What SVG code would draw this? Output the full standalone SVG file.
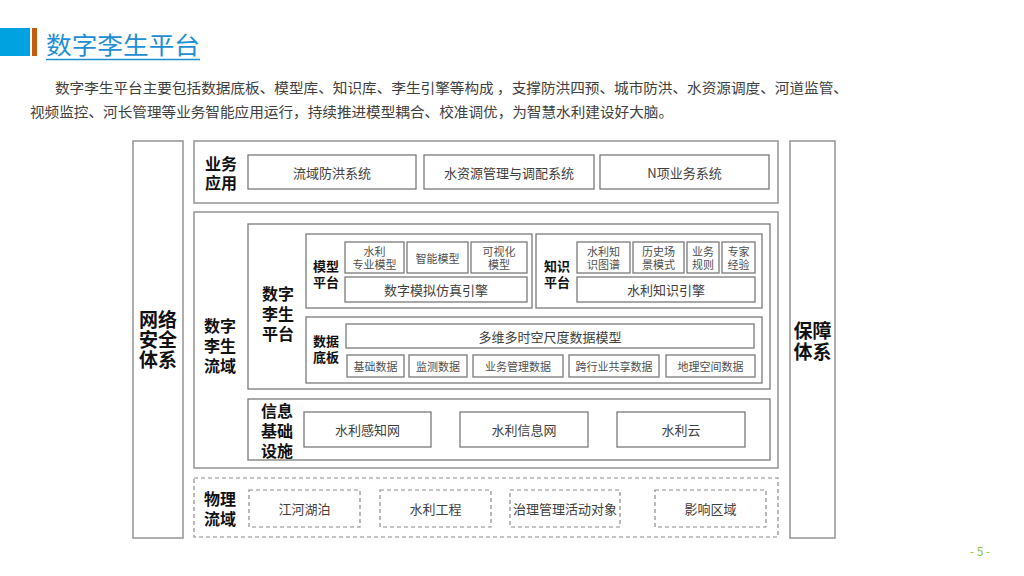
<svg xmlns="http://www.w3.org/2000/svg" width="1024" height="576" viewBox="0 0 1024 576">
<style>
text{font-family:"Noto Sans CJK SC","Noto Sans",sans-serif;}
.outer{fill:#fff;stroke:#9a9a9a;stroke-width:1.6}
.box{fill:#fff;stroke:#7a7a7a;stroke-width:1.3}
.dash{fill:#fff;stroke:#8a8a8a;stroke-width:1.2;stroke-dasharray:4 3}
.big{font-size:19px;font-weight:bold;fill:#111;text-anchor:middle;dominant-baseline:central}
.lbl{font-size:16px;font-weight:bold;fill:#111;text-anchor:middle;dominant-baseline:central}
.sl{font-size:13px;font-weight:bold;fill:#111;text-anchor:middle;dominant-baseline:central}
.t{font-size:13px;fill:#404040;text-anchor:middle;dominant-baseline:central}
.s{font-size:11px;fill:#505050;text-anchor:middle;dominant-baseline:central}
.para{font-size:14px;fill:#404040}
</style>
<rect width="1024" height="576" fill="#fff"/>
<g id="header">
<rect x="0" y="28" width="30" height="28" fill="#00A3E0"/>
<rect x="32" y="28" width="5" height="28" fill="#C55A11"/>
<text x="46" y="54" font-size="24" fill="#1F8ED3" textLength="154" lengthAdjust="spacingAndGlyphs">数字李生平台</text>
<line x1="46" y1="59.5" x2="200" y2="59.5" stroke="#1F8ED3" stroke-width="1.5"/>
</g>
<g id="paragraph">
<text class="para" x="55" y="93" textLength="793" lengthAdjust="spacingAndGlyphs">数字李生平台主要包括数据底板、模型库、知识库、李生引擎等构成 ，支撑防洪四预、城市防洪、水资源调度、河道监管、</text>
<text class="para" x="30" y="117" textLength="643" lengthAdjust="spacingAndGlyphs">视频监控、河长管理等业务智能应用运行，持续推进模型耦合、校准调优，为智慧水利建设好大脑。</text>
</g>
<g id="network-security">
<rect class="outer" x="133" y="141" width="50" height="397"/>
<text class="big"><tspan x="158" y="318">网络</tspan><tspan x="158" y="338">安全</tspan><tspan x="158" y="358">体系</tspan></text>
</g>
<g id="guarantee">
<rect class="outer" x="790" y="141" width="45" height="397"/>
<text class="big"><tspan x="812.5" y="329">保障</tspan><tspan x="812.5" y="350">体系</tspan></text>
</g>
<g id="business-app">
<rect class="outer" x="194" y="141" width="584" height="62"/>
<text class="lbl"><tspan x="221" y="163">业务</tspan><tspan x="221" y="182">应用</tspan></text>
<g id="app-flood"><rect class="box" x="248" y="155" width="168" height="34"/><text class="t" x="332" y="172">流域防洪系统</text></g>
<g id="app-water"><rect class="box" x="424" y="155" width="170" height="34"/><text class="t" x="509" y="172">水资源管理与调配系统</text></g>
<g id="app-n"><rect class="box" x="600" y="155" width="169" height="34"/><text class="t" x="684.5" y="172">N项业务系统</text></g>
</g>
<g id="twin-basin">
<rect class="outer" x="194" y="212" width="584" height="256"/>
<text class="lbl"><tspan x="220" y="325">数字</tspan><tspan x="220" y="345">李生</tspan><tspan x="220" y="365">流域</tspan></text>
</g>
<g id="twin-platform">
<rect class="box" x="248" y="224" width="522" height="165"/>
<text class="lbl"><tspan x="278" y="293">数字</tspan><tspan x="278" y="313">李生</tspan><tspan x="278" y="333">平台</tspan></text>
</g>
<g id="model-platform">
<rect class="box" x="306" y="234" width="226" height="74"/>
<text class="sl"><tspan x="326" y="265">模型</tspan><tspan x="326" y="281">平台</tspan></text>
<g id="m-pro"><rect class="box" x="345" y="242" width="59" height="31"/><text class="s"><tspan x="374.5" y="251">水利</tspan><tspan x="374.5" y="264">专业模型</tspan></text></g>
<g id="m-ai"><rect class="box" x="407" y="242" width="61" height="31"/><text class="s" x="437.5" y="257.5">智能模型</text></g>
<g id="m-vis"><rect class="box" x="471" y="242" width="56" height="31"/><text class="s"><tspan x="499" y="251">可视化</tspan><tspan x="499" y="264">模型</tspan></text></g>
<g id="m-engine"><rect class="box" x="345" y="277" width="182" height="25"/><text class="t" x="436" y="289.5">数字模拟仿真引擎</text></g>
</g>
<g id="knowledge-platform">
<rect class="box" x="536" y="234" width="226" height="74"/>
<text class="sl"><tspan x="557" y="265">知识</tspan><tspan x="557" y="281">平台</tspan></text>
<g id="k-graph"><rect class="box" x="577" y="242" width="53" height="31"/><text class="s"><tspan x="603.5" y="251">水利知</tspan><tspan x="603.5" y="264">识图谱</tspan></text></g>
<g id="k-hist"><rect class="box" x="633" y="242" width="51" height="31"/><text class="s"><tspan x="658.5" y="251">历史场</tspan><tspan x="658.5" y="264">景模式</tspan></text></g>
<g id="k-rule"><rect class="box" x="687" y="242" width="32" height="31"/><text class="s"><tspan x="703" y="251">业务</tspan><tspan x="703" y="264">规则</tspan></text></g>
<g id="k-expert"><rect class="box" x="722" y="242" width="33" height="31"/><text class="s"><tspan x="738.5" y="251">专家</tspan><tspan x="738.5" y="264">经验</tspan></text></g>
<g id="k-engine"><rect class="box" x="577" y="277" width="178" height="25"/><text class="t" x="666" y="289.5">水利知识引擎</text></g>
</g>
<g id="data-base">
<rect class="box" x="306" y="317" width="456" height="66"/>
<text class="sl"><tspan x="326" y="340">数据</tspan><tspan x="326" y="356">底板</tspan></text>
<g id="d-model"><rect class="box" x="346" y="324" width="408" height="24"/><text class="t" x="550" y="336">多维多时空尺度数据模型</text></g>
<g id="d-basic"><rect class="box" x="347" y="355" width="57" height="22"/><text class="s" x="375.5" y="366">基础数据</text></g>
<g id="d-monitor"><rect class="box" x="409" y="355" width="58" height="22"/><text class="s" x="438" y="366">监测数据</text></g>
<g id="d-biz"><rect class="box" x="473" y="355" width="90" height="22"/><text class="s" x="518" y="366">业务管理数据</text></g>
<g id="d-share"><rect class="box" x="569" y="355" width="90" height="22"/><text class="s" x="614" y="366">跨行业共享数据</text></g>
<g id="d-geo"><rect class="box" x="666" y="355" width="89" height="22"/><text class="s" x="710.5" y="366">地理空间数据</text></g>
</g>
<g id="info-infra">
<rect class="box" x="248" y="399" width="522" height="61"/>
<text class="lbl"><tspan x="277" y="410">信息</tspan><tspan x="277" y="430">基础</tspan><tspan x="277" y="450">设施</tspan></text>
<g id="i-sense"><rect class="box" x="304" y="412" width="127" height="35"/><text class="t" x="367.5" y="429.5">水利感知网</text></g>
<g id="i-info"><rect class="box" x="460" y="412" width="128" height="35"/><text class="t" x="524" y="429.5">水利信息网</text></g>
<g id="i-cloud"><rect class="box" x="617" y="412" width="128" height="35"/><text class="t" x="681" y="429.5">水利云</text></g>
</g>
<g id="physical-basin">
<rect class="dash" x="194" y="478" width="584" height="59"/>
<text class="lbl"><tspan x="220" y="498">物理</tspan><tspan x="220" y="518">流域</tspan></text>
<g id="p-river"><rect class="dash" x="249" y="490" width="111" height="37"/><text class="t" x="304.5" y="508.5">江河湖泊</text></g>
<g id="p-eng"><rect class="dash" x="380" y="490" width="111" height="37"/><text class="t" x="435.5" y="508.5">水利工程</text></g>
<g id="p-gov"><rect class="dash" x="510" y="490" width="110" height="37"/><text class="t" x="565" y="508.5">治理管理活动对象</text></g>
<g id="p-area"><rect class="dash" x="655" y="490" width="111" height="37"/><text class="t" x="710.5" y="508.5">影响区域</text></g>
</g>
<g id="connectors"/>
<g id="page-number">
<text x="980" y="556" font-size="12" fill="#8DC63F" text-anchor="middle">- 5 -</text>
</g>
</svg>
